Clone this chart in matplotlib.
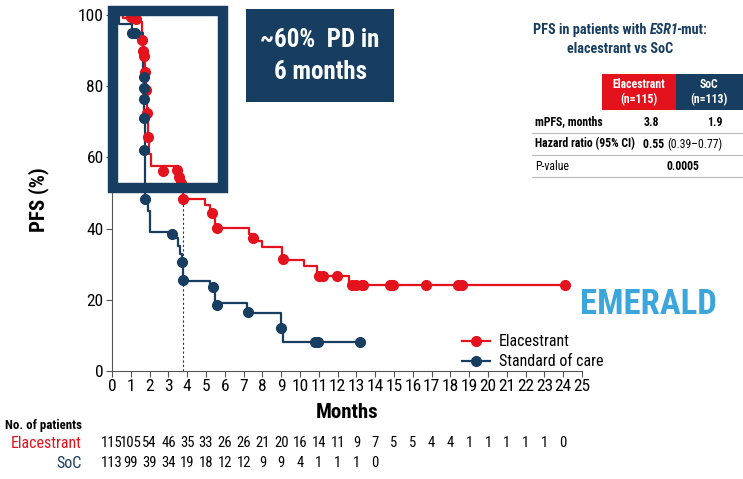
import matplotlib
matplotlib.use('Agg')
import matplotlib.pyplot as plt
from matplotlib.patches import Rectangle
from matplotlib.lines import Line2D
from matplotlib.transforms import blended_transform_factory

plt.rcParams['font.family'] = ['Roboto Condensed', 'DejaVu Sans']

RED = '#e3121c'
NAVY = '#173d60'
W, H = 743, 479

# Kaplan-Meier steps (month, PFS %)
ela_t = [0, 0.6, 1.5, 1.58, 1.65, 1.7, 1.75, 1.8, 1.85, 1.9, 1.93, 1.97, 2.05,
         3.5, 3.65, 3.78, 4.95, 5.2, 5.5, 7.3, 7.6, 8.0, 9.05, 10.2, 10.9, 12.6, 24.1]
ela_s = [100, 99.1, 98, 93, 90, 87, 84, 79, 74, 69, 65, 61, 57.5,
         54.5, 52.5, 48.3, 46.5, 44.5, 40.3, 38.6, 36.6, 34.7, 31.2, 29.4, 26.6, 24.1, 24.1]
soc_t = [0, 0.35, 1.05, 1.65, 1.7, 1.72, 1.75, 1.78, 1.9, 2.0,
         3.35, 3.5, 3.6, 3.7, 3.78, 5.2, 5.5, 7.2, 9.0, 9.1, 13.2]
soc_s = [100, 97.6, 95, 85, 78, 70, 60, 48.4, 45, 39,
         37.5, 35, 33, 30.7, 25.3, 23.6, 19, 16.4, 12, 8.2, 8.2]

# censor marks (month, PFS %)
ela_cens_t = [1.0, 1.3, 1.58, 1.65, 1.72, 1.78, 1.82, 1.87, 1.93, 2.73, 3.44, 3.55, 3.65, 3.8,
              5.3, 5.57, 7.5, 9.1, 11.0, 11.2, 11.95, 12.75, 13.0, 13.28, 13.37,
              14.8, 14.96, 16.7, 18.4, 18.6, 24.1]
ela_cens_s = [99.3, 98.8, 93, 90, 88.5, 84, 79, 72.5, 65.8, 56.2, 56.4, 54.5, 52.8, 48.3,
              44.4, 40.3, 37.4, 31.6, 26.6, 26.6, 26.6, 24.1, 24.1, 24.1, 24.1,
              24.1, 24.1, 24.1, 24.1, 24.1, 24.1]
soc_cens_t = [1.05, 1.2, 1.68, 1.68, 1.7, 1.7, 1.72, 1.78, 3.2, 3.7, 3.76,
              5.36, 5.57, 7.25, 9.0, 10.8, 10.96, 13.2]
soc_cens_s = [95, 95, 82.7, 79.4, 76.4, 71.2, 62, 48.4, 38.6, 30.7, 25.5,
              23.6, 18.5, 16.6, 12, 8.2, 8.2, 8.2]

median_ela = 3.8
median_pfs = 48.3

months = list(range(0, 26))
ela_risk = [115, 105, 54, 46, 35, 33, 26, 26, 21, 20, 16, 14, 11, 9, 7, 5, 5, 4, 4, 1, 1, 1, 1, 1, 0]
soc_risk = [113, 99, 39, 34, 19, 18, 12, 12, 9, 9, 4, 1, 1, 1, 0]

fig = plt.figure(figsize=(W / 100, H / 100), dpi=100)
ax = fig.add_axes([112 / W, 1 - 371 / H, 470 / W, 356 / H])


def fx(x):
    return x / W


def fy(y):
    return 1 - y / H


def rich_line(pieces, xc, y, **kw):
    # place text pieces side by side, centred on xc (pixels); third item trims the gap after a piece
    renderer = fig.canvas.get_renderer()
    texts = [fig.text(0, fy(y), s, va='center', **kw, **extra) for s, extra, _ in pieces]
    widths = [t.get_window_extent(renderer).width - trim for t, (_, _, trim) in zip(texts, pieces)]
    x = xc - sum(widths) / 2
    for t, w in zip(texts, widths):
        t.set_x(fx(x))
        x += w


ax.step(ela_t, ela_s, where='post', color=RED, lw=1.6, clip_on=False, zorder=3)
ax.plot(ela_cens_t, ela_cens_s, 'o', color=RED, ms=7, clip_on=False, zorder=4)
ax.step(soc_t, soc_s, where='post', color=NAVY, lw=1.6, clip_on=False, zorder=3)
ax.plot(soc_cens_t, soc_cens_s, 'o', color=NAVY, ms=7, clip_on=False, zorder=4)
ax.plot([median_ela, median_ela], [0, median_pfs], ls=(0, (2, 2)), color='#333333', lw=0.8)

ax.set_xlim(0, 25)
ax.set_ylim(0, 100)
ax.set_xticks(months)
ax.set_yticks([0, 20, 40, 60, 80, 100])
ax.tick_params(labelsize=12.5, length=4, color='#555555', pad=2)
for s in ['top', 'right']:
    ax.spines[s].set_visible(False)
for s in ['left', 'bottom']:
    ax.spines[s].set_color('#555555')
ax.set_xlabel('Months', fontsize=15, fontweight='bold', labelpad=6)
ax.set_ylabel('PFS (%)', fontsize=15, fontweight='bold')
ax.yaxis.set_label_coords(-0.135, 0.48)

# highlight frame over first 6 months
ax.add_patch(Rectangle((0.05, 51.3), 5.85, 49.9, fill=False, edgecolor=NAVY, lw=7.5,
                       joinstyle='miter', clip_on=False, zorder=5))

# callout box
fig.patches.append(Rectangle((fx(246), fy(102)), fx(148), 93 / H, transform=fig.transFigure,
                             facecolor=NAVY, edgecolor='none'))
fig.text(fx(320), fy(56), '~60%  PD in\n6 months', color='white', fontsize=18, fontweight='bold',
         ha='center', va='center', linespacing=1.45)

# legend
handles = [Line2D([], [], color=RED, lw=1.6, marker='o', ms=7),
           Line2D([], [], color=NAVY, lw=1.6, marker='o', ms=7)]
ax.legend(handles, ['Elacestrant', 'Standard of care'], loc='upper left',
          bbox_to_anchor=(fx(448), fy(320)), bbox_transform=fig.transFigure,
          frameon=False, fontsize=11.5, handlelength=1.7, handletextpad=0.6, labelspacing=0.3)

fig.text(fx(648), fy(304), 'EMERALD', color='#3aa6db', fontsize=25, fontweight='bold',
         ha='center', va='center')

# results table
rich_line([('PFS in patients with ', {}, 0), ('ESR1', {'style': 'italic'}, 2), ('-mut:', {}, 0)],
          620, 30, color=NAVY, fontsize=10.3, fontweight='bold')
fig.text(fx(620), fy(49), 'elacestrant vs SoC', color=NAVY, fontsize=10.3, fontweight='bold',
         ha='center', va='center')
fig.patches.append(Rectangle((fx(602), fy(110)), fx(74), 36 / H, transform=fig.transFigure,
                             facecolor=RED, edgecolor='none'))
fig.patches.append(Rectangle((fx(676), fy(110)), fx(70), 36 / H, transform=fig.transFigure,
                             facecolor=NAVY, edgecolor='none'))
fig.text(fx(639), fy(92), 'Elacestrant\n(n=115)', color='white', fontsize=8.5, fontweight='bold',
         ha='center', va='center')
fig.text(fx(709), fy(92), 'SoC\n(n=113)', color='white', fontsize=8.5, fontweight='bold',
         ha='center', va='center')
rows_y = [122, 144, 166]
fig.text(fx(535), fy(rows_y[0]), 'mPFS, months', fontsize=8.5, fontweight='bold', va='center')
fig.text(fx(651), fy(rows_y[0]), '3.8', fontsize=8.5, fontweight='bold', va='center', ha='center')
fig.text(fx(715), fy(rows_y[0]), '1.9', fontsize=8.5, fontweight='bold', va='center', ha='center')
fig.text(fx(535), fy(rows_y[1]), 'Hazard ratio (95% CI)', fontsize=8.5, fontweight='bold', va='center')
rich_line([('0.55 ', {'fontweight': 'bold'}, 0), ('(0.39\u20130.77)', {}, 0)], 683, rows_y[1], fontsize=8.5)
fig.text(fx(535), fy(rows_y[2]), 'P-value', fontsize=8.5, va='center')
fig.text(fx(683), fy(rows_y[2]), '0.0005', fontsize=8.5, fontweight='bold', va='center', ha='center')
for ly in [133, 155, 177]:
    fig.add_artist(Line2D([fx(532), 1], [fy(ly), fy(ly)], color='#bbbbbb', lw=0.8,
                          transform=fig.transFigure))

# number at risk
tr = blended_transform_factory(ax.transData, fig.transFigure)
fig.text(fx(82), fy(426), 'No. of patients', fontsize=9.3, fontweight='bold', ha='right', va='center')
fig.text(fx(82), fy(443), 'Elacestrant', fontsize=11.5, color=RED, ha='right', va='center')
fig.text(fx(82), fy(463), 'SoC', fontsize=11.5, color=NAVY, ha='right', va='center')
for m, n in zip(months, ela_risk):
    ax.text(m, fy(443), str(n), transform=tr, fontsize=10.5, ha='center', va='center')
for m, n in zip(months, soc_risk):
    ax.text(m, fy(463), str(n), transform=tr, fontsize=10.5, ha='center', va='center')

fig.savefig('out.png', dpi=100)
